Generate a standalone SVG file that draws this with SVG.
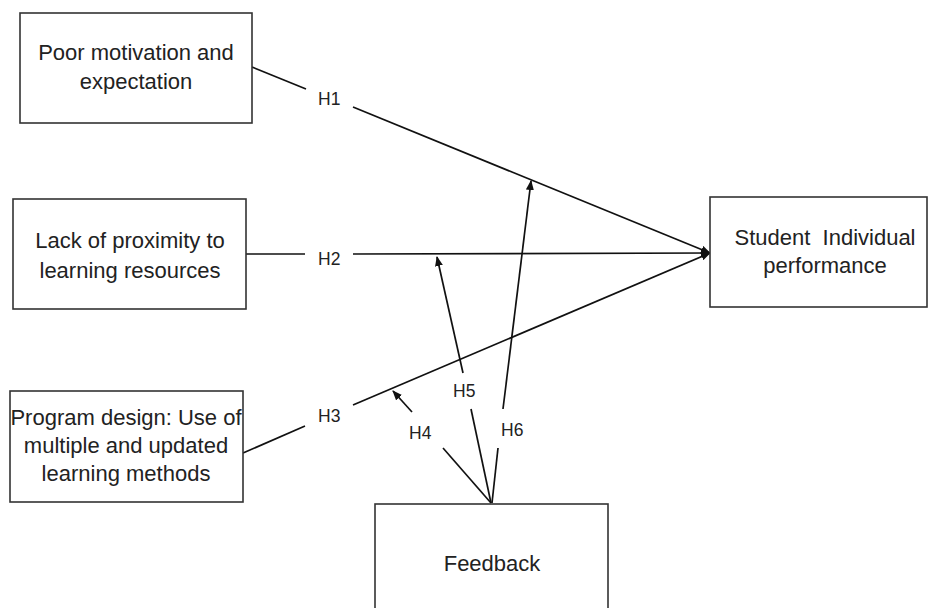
<svg xmlns="http://www.w3.org/2000/svg" width="931" height="608" viewBox="0 0 931 608">
<style>
.box{fill:#fff;stroke:#333;stroke-width:1.6}
.t{font-family:"Liberation Sans",Arial,sans-serif;font-size:22px;fill:#222;text-anchor:middle}
.h{font-family:"Liberation Sans",Arial,sans-serif;font-size:17.5px;fill:#222}
.c{stroke:#111;stroke-width:1.7;fill:none}
</style>
<defs>
<marker id="ah" markerWidth="10" markerHeight="8" refX="9" refY="4" orient="auto" markerUnits="userSpaceOnUse">
<path d="M0,0 L10,4 L0,8 Z" fill="#111"/>
</marker>
</defs>
<rect width="931" height="608" fill="#fff"/>
<g id="connectors">
<line class="c" x1="252" y1="67" x2="306" y2="89"/>
<line class="c" x1="353" y1="107" x2="710" y2="253" marker-end="url(#ah)"/>
<line class="c" x1="246" y1="254" x2="305" y2="254"/>
<line class="c" x1="353" y1="254" x2="710" y2="253" marker-end="url(#ah)"/>
<line class="c" x1="243" y1="453" x2="305" y2="426"/>
<line class="c" x1="353" y1="405" x2="710" y2="253" marker-end="url(#ah)"/>
<line class="c" x1="491" y1="503" x2="443" y2="448"/>
<line class="c" x1="412" y1="412" x2="393" y2="391" marker-end="url(#ah)"/>
<line class="c" x1="491" y1="503" x2="471" y2="409"/>
<line class="c" x1="463" y1="373" x2="437" y2="257" marker-end="url(#ah)"/>
<line class="c" x1="492" y1="503" x2="498" y2="448"/>
<line class="c" x1="503" y1="409" x2="531" y2="181" marker-end="url(#ah)"/>
<text class="h" x="318" y="105">H1</text>
<text class="h" x="318" y="265">H2</text>
<text class="h" x="318" y="422">H3</text>
<text class="h" x="409" y="439">H4</text>
<text class="h" x="453" y="397">H5</text>
<text class="h" x="501" y="436">H6</text>
</g>
<g id="n1">
<rect class="box" x="20" y="13" width="232" height="110"/>
<text class="t" x="136" y="60">Poor motivation and</text>
<text class="t" x="136" y="89">expectation</text>
</g>
<g id="n2">
<rect class="box" x="13" y="199" width="233" height="110"/>
<text class="t" x="130" y="248">Lack of proximity to</text>
<text class="t" x="130" y="278">learning resources</text>
</g>
<g id="n3">
<rect class="box" x="10" y="391" width="233" height="111"/>
<text class="t" x="126" y="425">Program design: Use of</text>
<text class="t" x="126" y="453">multiple and updated</text>
<text class="t" x="126" y="481">learning methods</text>
</g>
<g id="n4">
<rect class="box" x="710" y="197" width="217" height="110"/>
<text class="t" x="825" y="245" xml:space="preserve">Student  Individual</text>
<text class="t" x="825" y="273">performance</text>
</g>
<g id="n5">
<rect class="box" x="375" y="504" width="233" height="120"/>
<text class="t" x="492" y="571">Feedback</text>
</g>
</svg>
